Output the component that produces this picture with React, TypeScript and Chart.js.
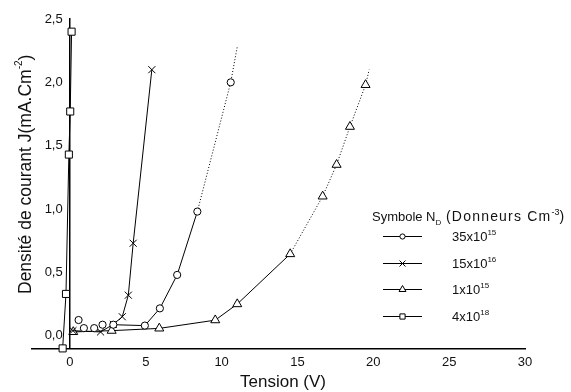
import { useEffect, useRef } from 'react';
import { Chart, registerables } from 'chart.js';

Chart.register(...registerables);

const FONT = '"Liberation Sans", Arial, Helvetica, sans-serif';

// Tick values
const xTicks = [0, 5, 10, 15, 20, 25, 30];
const yTicks = [0, 0.5, 1.0, 1.5, 2.0, 2.5];

// Series: ND = 35x10^15 (circles)
const circleX = [0.57, 0.92, 1.6, 2.15, 2.86, 4.94, 5.93, 7.07, 8.4, 10.6, 11.03];
const circleY = [0.124, 0.06, 0.06, 0.087, 0.087, 0.08, 0.216, 0.48, 0.98, 2.0, 2.28];
const circleMarker = [1, 1, 1, 1, 1, 1, 1, 1, 1, 1, 0];

// Series: ND = 15x10^16 (crosses)
const crossX = [0.2, 2.02, 2.86, 3.45, 3.85, 4.17, 5.4];
const crossY = [0.04, 0.03, 0.09, 0.15, 0.32, 0.73, 2.1];

// Series: ND = 1x10^15 (triangles)
const triX = [0.22, 2.75, 5.89, 9.58, 11.03, 14.52, 16.66, 17.58, 18.46, 19.49, 19.73];
const triY = [0.03, 0.04, 0.058, 0.123, 0.25, 0.645, 1.1, 1.35, 1.65, 1.98, 2.1];
const triMarker = [1, 1, 1, 1, 1, 1, 1, 1, 1, 1, 0];

// Series: ND = 4x10^18 (squares)
const sqX = [-0.48, -0.26, -0.07, 0.02, 0.11];
const sqY = [-0.1, 0.33, 1.43, 1.77, 2.4];

// Legend
const legendBase = ['35x10', '15x10', '1x10', '4x10'];
const legendExp = ['15', '16', '15', '18'];
const legendStyle = ['circle', 'cross', 'triangle', 'rect'];

const pts = (xs: number[], ys: number[]) => xs.map((x, i) => ({ x, y: ys[i] }));

type Seg = { t: string; size: number; dy: number; ls?: number };

function drawRich(ctx: CanvasRenderingContext2D, segs: Seg[], x: number, y: number) {
  let cx = x;
  for (const s of segs) {
    ctx.font = `${s.size}px ${FONT}`;
    (ctx as any).letterSpacing = `${s.ls || 0}px`;
    ctx.fillText(s.t, cx, y + s.dy);
    cx += ctx.measureText(s.t).width;
  }
  (ctx as any).letterSpacing = '0px';
  return cx;
}

function drawMarker(ctx: CanvasRenderingContext2D, style: string, x: number, y: number) {
  ctx.save();
  ctx.strokeStyle = '#000';
  ctx.fillStyle = '#fff';
  ctx.lineWidth = 1;
  ctx.beginPath();
  if (style === 'circle') {
    ctx.arc(x, y, 2.6, 0, Math.PI * 2);
    ctx.fill();
    ctx.stroke();
  } else if (style === 'cross') {
    const r = 3;
    ctx.moveTo(x - r, y - r);
    ctx.lineTo(x + r, y + r);
    ctx.moveTo(x - r, y + r);
    ctx.lineTo(x + r, y - r);
    ctx.stroke();
  } else if (style === 'triangle') {
    const r = 4;
    ctx.moveTo(x, y - r);
    ctx.lineTo(x + r * 0.87, y + r * 0.5);
    ctx.lineTo(x - r * 0.87, y + r * 0.5);
    ctx.closePath();
    ctx.fill();
    ctx.stroke();
  } else {
    const r = 2.6;
    ctx.rect(x - r, y - r, 2 * r, 2 * r);
    ctx.fill();
    ctx.stroke();
  }
  ctx.restore();
}

const textPlugin = {
  id: 'texts',
  afterDraw(chart: any) {
    const ctx: CanvasRenderingContext2D = chart.ctx;
    ctx.save();
    ctx.fillStyle = '#111';
    // X title
    ctx.textAlign = 'center';
    ctx.textBaseline = 'middle';
    ctx.font = `17px ${FONT}`;
    ctx.fillText('Tension (V)', 283, 382);
    // Y title
    ctx.save();
    ctx.translate(26, 294);
    ctx.rotate(-Math.PI / 2);
    ctx.textAlign = 'left';
    ctx.textBaseline = 'middle';
    drawRich(
      ctx,
      [
        { t: 'Densité de courant J(mA.Cm', size: 17.5, dy: 0 },
        { t: '-2', size: 10, dy: -7 },
        { t: ')', size: 17.5, dy: 0 },
      ],
      0,
      0
    );
    ctx.restore();
    // Legend
    ctx.textAlign = 'left';
    ctx.textBaseline = 'alphabetic';
    drawRich(ctx, [{ t: 'Symbole', size: 13, dy: 0 }], 372, 221);
    const nx = drawRich(ctx, [{ t: 'N', size: 13, dy: 0 }], 426, 221);
    drawRich(ctx, [{ t: 'D', size: 8, dy: 4 }], nx, 221);
    drawRich(
      ctx,
      [
        { t: '(Donneurs Cm', size: 14, dy: 0, ls: 1.2 },
        { t: '-3', size: 9, dy: -6 },
        { t: ')', size: 14, dy: 0 },
      ],
      446,
      221
    );
    const rows = [236, 263, 289, 316];
    rows.forEach((cy, i) => {
      ctx.save();
      ctx.strokeStyle = '#000';
      ctx.lineWidth = 1;
      ctx.beginPath();
      ctx.moveTo(383, cy + 0.5);
      ctx.lineTo(422, cy + 0.5);
      ctx.stroke();
      ctx.restore();
      drawMarker(ctx, legendStyle[i], 402.5, cy + 0.5);
      ctx.fillStyle = '#111';
      drawRich(
        ctx,
        [
          { t: legendBase[i], size: 13, dy: 0 },
          { t: legendExp[i], size: 8, dy: -6 },
        ],
        452,
        cy + 4.5
      );
    });
    ctx.restore();
  },
};

const TRANSPARENT = 'rgba(0,0,0,0)';

export default function App() {
  const ref = useRef<HTMLCanvasElement>(null);
  useEffect(() => {
    const canvas = ref.current!;
    const common = {
      showLine: true,
      borderColor: '#000',
      borderWidth: 1,
      pointBackgroundColor: '#fff',
      pointBorderColor: '#000',
      pointBorderWidth: 1,
      clip: false as any,
      tension: 0,
    };
    const chart = new Chart(canvas, {
      type: 'scatter',
      data: {
        datasets: [
          {
            ...common,
            label: '35x10^15',
            data: pts(circleX, circleY),
            pointStyle: 'circle',
            pointRadius: circleMarker.map((m) => m * 3.6),
            segment: {
              borderColor: (c: any) => (c.p0DataIndex < 4 ? TRANSPARENT : '#000'),
              borderDash: (c: any) => (c.p0DataIndex >= 8 ? [1, 2] : []),
            },
          },
          {
            ...common,
            label: '15x10^16',
            data: pts(crossX, crossY),
            pointStyle: 'crossRot',
            pointRadius: 5,
          },
          {
            ...common,
            label: '1x10^15',
            data: pts(triX, triY),
            pointStyle: 'triangle',
            pointRadius: triMarker.map((m) => m * 5.2),
            segment: {
              borderDash: (c: any) => (c.p0DataIndex >= 5 ? [1, 2] : []),
            },
          },
          {
            ...common,
            label: '4x10^18',
            data: pts(sqX, sqY),
            pointStyle: 'rect',
            pointRadius: 5,
          },
        ] as any,
      },
      options: {
        responsive: false,
        animation: false,
        events: [],
        layout: { padding: { left: 32, right: 46, top: 19, bottom: 16 } },
        plugins: { legend: { display: false }, tooltip: { enabled: false } },
        scales: {
          x: {
            type: 'linear',
            min: -2.5,
            max: 30,
            position: 'bottom',
            afterBuildTicks: (s: any) => {
              s.ticks = xTicks.map((v) => ({ value: v }));
            },
            grid: { display: false, drawTicks: false },
            border: { display: true, color: '#000', width: 1.5 },
            ticks: {
              font: { family: FONT, size: 13 },
              color: '#111',
              padding: 6,
              maxRotation: 0,
              autoSkip: false,
              callback: (v: any) => String(v),
            },
          },
          y: {
            type: 'linear',
            min: -0.1,
            max: 2.5,
            position: { x: 0 } as any,
            afterBuildTicks: (s: any) => {
              s.ticks = yTicks.map((v) => ({ value: v }));
            },
            grid: { display: false, drawTicks: false },
            border: { display: true, color: '#000', width: 1.5 },
            ticks: {
              font: { family: FONT, size: 13 },
              color: '#111',
              padding: 7,
              autoSkip: false,
              callback: (v: any) => Number(v).toFixed(1).replace('.', ',') + '  ',
            },
          },
        } as any,
      },
      plugins: [textPlugin],
    });
    return () => chart.destroy();
  }, []);
  return (
    <div style={{ position: 'fixed', left: 0, top: 0, width: 571, height: 392, background: '#fff' }}>
      <canvas ref={ref} width={571} height={392} style={{ display: 'block', width: 571, height: 392 }} />
    </div>
  );
}
